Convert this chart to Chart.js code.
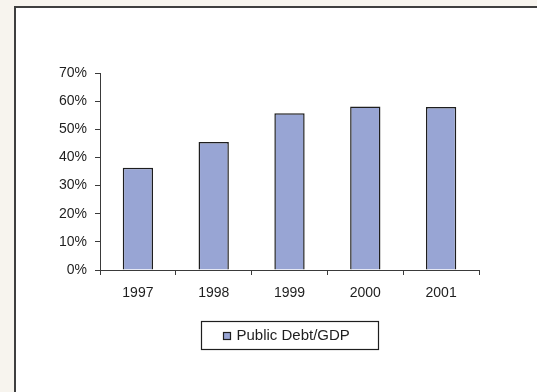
<!DOCTYPE html>
<html>
<head>
<meta charset="utf-8">
<script src="https://cdn.jsdelivr.net/npm/chart.js@4"></script>
<style>
  html, body { margin: 0; padding: 0; width: 537px; height: 392px; overflow: hidden; background: #f7f4ee; }
  #panel { position: absolute; left: 14px; top: 6px; width: 540px; height: 400px; background: #ffffff;
           border-left: 2px solid #3f3f3f; border-top: 2px solid #3f3f3f; }
  #c { position: absolute; left: 0; top: 0; }
</style>
</head>
<body>
<div id="panel"></div>
<canvas id="c" width="537" height="392"></canvas>
<script>
const categories = ['1997', '1998', '1999', '2000', '2001'];
const debtToGdp = [36.3, 45.5, 55.7, 58.1, 57.9];
const seriesName = 'Public Debt/GDP';
const yMax = 70;
const yStep = 10;

const barFill = '#98a5d4';
const inkColor = '#1e1e1e';
const axisColor = '#3a3a3a';
const fontFamily = 'Arial, "Liberation Sans", Helvetica, sans-serif';

const boxedLegend = {
  id: 'boxedLegend',
  afterDraw(chart) {
    const { ctx, chartArea } = chart;
    const ds = chart.data.datasets[0];
    const cx = (chartArea.left + chartArea.right) / 2;
    const w = 177, h = 28;
    const left = Math.round(cx - w / 2) + 0.5;
    const top = Math.round(chartArea.bottom + 51) + 0.5;
    ctx.save();
    ctx.strokeStyle = inkColor;
    ctx.lineWidth = 1.2;
    ctx.fillStyle = '#ffffff';
    ctx.fillRect(left, top, w, h);
    ctx.strokeRect(left, top, w, h);
    const sq = 7;
    const sqX = left + 22;
    const sqY = top + Math.round(h / 2 - sq / 2);
    ctx.fillStyle = ds.backgroundColor;
    ctx.fillRect(sqX, sqY, sq, sq);
    ctx.strokeRect(sqX, sqY, sq, sq);
    ctx.fillStyle = inkColor;
    ctx.font = '15px ' + fontFamily;
    ctx.textBaseline = 'middle';
    ctx.textAlign = 'left';
    ctx.fillText(ds.label, sqX + sq + 6, top + h / 2 + 0.5);
    ctx.restore();
  }
};

new Chart(document.getElementById('c'), {
  type: 'bar',
  data: {
    labels: categories,
    datasets: [{
      label: seriesName,
      data: debtToGdp,
      backgroundColor: barFill,
      borderColor: inkColor,
      borderWidth: 1.5,
      barPercentage: 0.4,
      categoryPercentage: 1.0
    }]
  },
  options: {
    responsive: false,
    animation: false,
    devicePixelRatio: 1,
    layout: { padding: { left: 0, top: 73, right: 58, bottom: 82 } },
    plugins: { legend: { display: false }, tooltip: { enabled: false } },
    scales: {
      x: {
        offset: true,
        grid: { display: true, drawOnChartArea: false, drawTicks: true, tickLength: 5, color: axisColor, offset: true },
        border: { display: true, color: axisColor, width: 1 },
        ticks: { color: inkColor, font: { family: fontFamily, size: 14 }, padding: 10, maxRotation: 0 },
        afterFit(scale) { scale.height = 40; }
      },
      y: {
        min: 0,
        max: yMax,
        grid: { display: true, drawOnChartArea: false, drawTicks: true, tickLength: 5, color: axisColor },
        border: { display: true, color: axisColor, width: 1 },
        ticks: {
          stepSize: yStep,
          color: inkColor,
          font: { family: fontFamily, size: 14 },
          padding: 8,
          callback: (v) => v + '%'
        },
        afterFit(scale) { scale.width = 100; }
      }
    }
  },
  plugins: [boxedLegend]
});
</script>
</body>
</html>
